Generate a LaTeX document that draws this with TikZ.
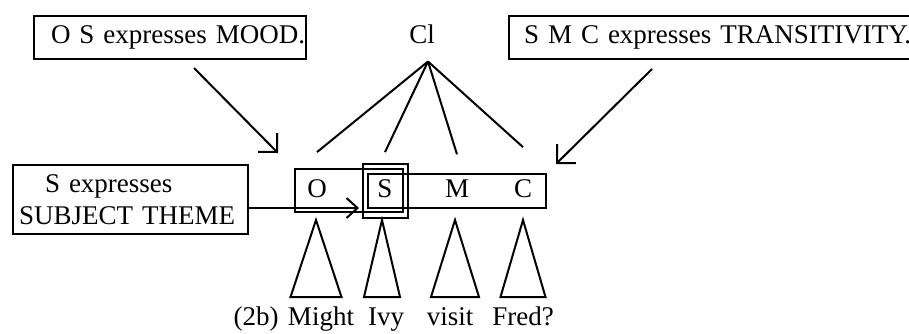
\documentclass[tikz,border=0pt]{standalone}
\usepackage{fontspec}
\setmainfont{Liberation Serif}
\usetikzlibrary{arrows.meta}

\newcommand{\treefont}{\fontsize{13.5pt}{16pt}\selectfont}

\tikzset{
  textbox/.style={draw, rectangle, inner xsep=0pt, inner ysep=0pt, align=left, anchor=north west},
  cat/.style={inner sep=0pt, anchor=base},
  word/.style={inner sep=0pt, anchor=base},
  bigarrow/.style={-{Straight Barb[length=6.7pt,width=13.4pt]}},
  smallarrow/.style={-{Straight Barb[length=5.5pt,width=10pt]}}
}

\begin{document}
\begin{tikzpicture}[x=0.5pt, y=-0.5pt, line width=1pt, every node/.style={font=\treefont}]
  \useasboundingbox (0,0) rectangle (909,333);
  % Annotation boxes
  \node[textbox, text width=136pt, minimum height=21.5pt] (mood) at (33,15) {\hspace*{8.5pt}\mbox{O S expresses MOOD.}};
  \node[textbox, text width=200.5pt, minimum height=21.5pt] (trans) at (508,15) {\hspace*{7.5pt}\mbox{S M C expresses TRANSITIVITY.}};
  \node[textbox, text width=117.5pt, minimum height=34.5pt] (subj) at (12,164) {\hspace*{16pt}S expresses\\\hspace*{3pt}\mbox{SUBJECT THEME}};
  % Clause and its functions
  \node[inner sep=0pt] (cl) at (422,34) {Cl};
  \node[cat] (o) at (317,197) {O};
  \node[cat] (s) at (385,197) {S};
  \node[cat] (m) at (457,197) {M};
  \node[cat] (c) at (523,197) {C};
  % Words
  \node[word] (ex) at (256,325) {(2b)};
  \node[word] (might) at (321,325) {Might};
  \node[word] (ivy) at (386,325) {Ivy};
  \node[word] (visit) at (450,325) {visit};
  \node[word] (fred) at (523,325) {Fred?};
  % Bracketing boxes: O S, S M C and S
  \draw (295,169) rectangle (403,212);
  \draw (368,174) rectangle (546,208);
  \draw (363,164) rectangle (408,218);
  % Branches from Cl
  \coordinate (cl root) at ([xshift=3pt,yshift=-8.5pt]cl.south);
  \draw (cl root) -- ([yshift=13pt]o.north);
  \draw (cl root) -- ([yshift=13pt]s.north);
  \draw (cl root) -- ([yshift=12pt]m.north);
  \draw (cl root) -- ([yshift=15.5pt]c.north);
  % Triangles over the words
  \foreach \ax/\hw in {316/25.5, 382/18, 455/24, 523/22.5}
    \draw (\ax,220) -- (\ax-\hw,297) -- (\ax+\hw,297) -- cycle;
  % Arrows from the annotations
  \coordinate (mood tail) at (194,68);
  \coordinate (mood tip) at (278,153);
  \coordinate (trans tail) at (652,69);
  \coordinate (trans tip) at (556,164);
  \coordinate (theme tip) at (359,208);
  \draw[bigarrow] (mood tail) -- (mood tip);
  \draw[bigarrow] (trans tail) -- (trans tip);
  \draw[smallarrow] (subj.east |- theme tip) -- (theme tip);
\end{tikzpicture}
\end{document}
